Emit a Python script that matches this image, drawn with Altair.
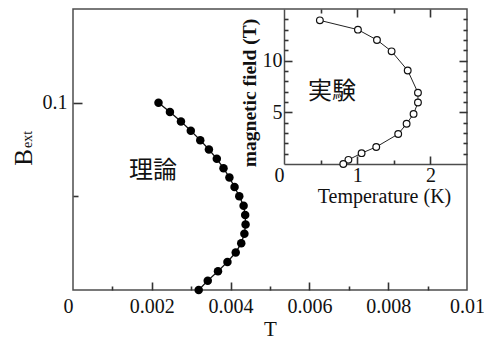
import altair as alt
import pandas as pd

# ---------------- data ----------------
main_B = [0.000, 0.005, 0.010, 0.015, 0.020, 0.025, 0.030, 0.035, 0.040, 0.045,
          0.050, 0.055, 0.060, 0.065, 0.070, 0.075, 0.080, 0.085, 0.090, 0.095, 0.100]
main_T = [0.00319, 0.00342, 0.00368, 0.00392, 0.00413, 0.00427, 0.00435, 0.00438,
          0.00437, 0.00433, 0.00422, 0.00410, 0.00397, 0.00382, 0.00365, 0.00345,
          0.00323, 0.00299, 0.00274, 0.00246, 0.00217]

inset_T = [0.49, 1.01, 1.27, 1.47, 1.69, 1.83, 1.83, 1.77, 1.675, 1.56, 1.26, 1.06, 0.88, 0.81]
inset_B = [13.9, 13.0, 12.0, 10.9, 9.05, 6.9, 5.95, 4.85, 3.9, 2.9, 1.65, 1.05, 0.4, 0.0]

main_x_labels = [0, 0.002, 0.004, 0.006, 0.008, 0.01]
main_x_major = [0.002, 0.004, 0.006, 0.008]
main_x_minor = [0.001, 0.003, 0.005, 0.007, 0.009]
main_y_labels = [0.1]
main_y_major = [0.1]
main_y_minor = [0.05]
inset_x_labels = [0, 1, 2]
inset_x_major = [1, 2]
inset_x_minor = [0.5, 1.5]
inset_y_labels = [5, 10]
inset_y_major = [5, 10]
inset_y_minor = [1, 2, 3, 4, 6, 7, 8, 9, 11, 12, 13, 14]

theory_text = ["理論"]
theory_T = [0.00203]
theory_B = [0.0633]
exp_text = ["実験"]
exp_T = [0.655]
exp_B = [7.0]

# ---------------- styling ----------------
FONT = "Liberation Serif"
CJK = "Noto Sans CJK JP"
AX = "#4d4d4d"
TK = "#333333"
TXT = "#111111"
W, H = 394, 281
IN_X = [211, W]
IN_Y = [155, 0]

main_df = pd.DataFrame({"T": main_T, "B": main_B})
inset_df = pd.DataFrame({"T": inset_T, "B": inset_B, "i": list(range(len(inset_T)))})
theory_df = pd.DataFrame({"T": theory_T, "B": theory_B, "label": theory_text})
exp_df = pd.DataFrame({"T": exp_T, "B": exp_B, "label": exp_text})

xs_main = alt.Scale(domain=[0, 0.01], nice=False, zero=False)
ys_main = alt.Scale(domain=[0, 0.15], nice=False, zero=False)
xs_in = alt.Scale(domain=[0, 2.5], range=IN_X, nice=False, zero=False)
ys_in = alt.Scale(domain=[0, 15], range=IN_Y, nice=False, zero=False)

zero_right = {"condition": {"test": "datum.value == 0", "value": "right"}, "value": "center"}


def tick_axis(orient, offset, values, size):
    return alt.Axis(orient=orient, offset=offset, values=values, labels=False,
                    domain=False, ticks=True, tickSize=size, tickWidth=1.6,
                    tickColor=TK, grid=False, title=None)


def axis_layer(df, xs, ys, xaxis, yaxis):
    return alt.Chart(df).mark_point(opacity=0).encode(
        x=alt.X("T:Q", scale=xs, axis=xaxis),
        y=alt.Y("B:Q", scale=ys, axis=yaxis),
    )


# ---------------- main panel ----------------
main_x_axis = alt.Axis(
    orient="bottom", values=main_x_labels, format="~g", ticks=False, domain=False,
    grid=False, labelFont=FONT, labelFontSize=20, labelColor=TXT, labelPadding=6,
    labelAlign=zero_right, labelFlush=False, labelOverlap=False,
    title="T", titleFont=FONT, titleFontSize=21, titleFontWeight="normal",
    titleColor=TXT, titleBaseline="alphabetic", titleY=45)
main_y_axis = alt.Axis(
    orient="left", values=main_y_labels, format="~g", ticks=False, domain=False,
    grid=False, labelFont=FONT, labelFontSize=20, labelColor=TXT, labelPadding=6,
    labelFlush=False, labelOverlap=False, title=None)

main_line = alt.Chart(main_df).mark_line(color=TXT, strokeWidth=1.3).encode(
    x=alt.X("T:Q", scale=xs_main, axis=main_x_axis),
    y=alt.Y("B:Q", scale=ys_main, axis=main_y_axis),
    order=alt.Order("B:Q"),
)
main_pts = alt.Chart(main_df).mark_circle(size=72, color="#000000", opacity=1).encode(
    x=alt.X("T:Q", scale=xs_main, axis=None),
    y=alt.Y("B:Q", scale=ys_main, axis=None),
)
main_major = axis_layer(main_df, xs_main, ys_main,
                        tick_axis("top", -H, main_x_major, 8),
                        tick_axis("right", -W, main_y_major, 9))
main_minor = axis_layer(main_df, xs_main, ys_main,
                        tick_axis("top", -H, main_x_minor, 4),
                        tick_axis("right", -W, main_y_minor, 5))
theory_lbl = alt.Chart(theory_df).mark_text(font=CJK, fontSize=24, color=TXT).encode(
    x=alt.X("T:Q", scale=xs_main, axis=None),
    y=alt.Y("B:Q", scale=ys_main, axis=None),
    text="label:N",
)
one = pd.DataFrame({"a": [0]})
b_title = alt.Chart(one).mark_text(text="B", font=FONT, fontSize=25, color=TXT,
                                   angle=270, align="center", baseline="alphabetic").encode(
    x=alt.value(-41), y=alt.value(148.5))
ext_title = alt.Chart(one).mark_text(text="ext", font=FONT, fontSize=14, color=TXT,
                                     angle=270, align="center", baseline="alphabetic").encode(
    x=alt.value(-41), y=alt.value(130.5))

main_layer = alt.layer(main_line, main_pts, main_major, main_minor, theory_lbl,
                       b_title, ext_title).resolve_axis(x="independent", y="independent")

# ---------------- inset ----------------
in_x_axis = alt.Axis(
    orient="bottom", offset=-(H - IN_Y[0]), values=inset_x_labels, format="d",
    ticks=False, domain=True, domainColor=AX, domainWidth=1.5, grid=False,
    labelFont=FONT, labelFontSize=20, labelColor=TXT, labelPadding=1,
    labelAlign=zero_right, labelFlush=False, labelOverlap=False,
    title="Temperature (K)", titleFont=FONT, titleFontSize=20, titleFontWeight="normal",
    titleColor=TXT, titleBaseline="alphabetic", titleX=311, titleY=38.5)
in_y_axis = alt.Axis(
    orient="left", offset=-IN_X[0], values=inset_y_labels, format="d",
    ticks=False, domain=True, domainColor=AX, domainWidth=1.5, grid=False,
    labelFont=FONT, labelFontSize=20, labelColor=TXT, labelPadding=2,
    labelFlush=False, labelOverlap=False,
    title="magnetic field (T)", titleFont=FONT, titleFontSize=19.5, titleFontWeight="bold",
    titleColor=TXT, titleBaseline="alphabetic", titleAngle=270, titleAlign="center",
    titleX=-29, titleY=83.5)

in_line = alt.Chart(inset_df).mark_line(color="#222222", strokeWidth=1).encode(
    x=alt.X("T:Q", scale=xs_in, axis=in_x_axis),
    y=alt.Y("B:Q", scale=ys_in, axis=in_y_axis),
    order=alt.Order("i:Q"),
)
in_pts = alt.Chart(inset_df).mark_point(shape="circle", size=45, filled=True,
                                        fill="white", stroke="#111111",
                                        strokeWidth=1.2, opacity=1).encode(
    x=alt.X("T:Q", scale=xs_in, axis=None),
    y=alt.Y("B:Q", scale=ys_in, axis=None),
)
in_major_a = axis_layer(inset_df, xs_in, ys_in,
                        tick_axis("top", -IN_Y[0], inset_x_major, 8),
                        tick_axis("right", -(W - IN_X[0]), inset_y_major, 8))
in_minor_a = axis_layer(inset_df, xs_in, ys_in,
                        tick_axis("top", -IN_Y[0], inset_x_minor, 4),
                        tick_axis("right", -(W - IN_X[0]), inset_y_minor, 4))
in_major_b = axis_layer(inset_df, xs_in, ys_in,
                        tick_axis("bottom", -H, inset_x_major, 8),
                        tick_axis("left", -W, inset_y_major, 8))
in_minor_b = axis_layer(inset_df, xs_in, ys_in,
                        tick_axis("bottom", -H, inset_x_minor, 4),
                        tick_axis("left", -W, inset_y_minor, 4))
exp_lbl = alt.Chart(exp_df).mark_text(font=CJK, fontSize=24, color=TXT).encode(
    x=alt.X("T:Q", scale=xs_in, axis=None),
    y=alt.Y("B:Q", scale=ys_in, axis=None),
    text="label:N",
)

inset_layer = alt.layer(in_line, in_pts, in_major_a, in_minor_a, in_major_b,
                        in_minor_b, exp_lbl).resolve_axis(x="independent", y="independent")

chart = alt.layer(main_layer, inset_layer).resolve_scale(
    x="independent", y="independent"
).properties(
    width=W, height=H,
    padding={"left": 65, "top": 1, "right": 17, "bottom": 50},
    autosize=alt.AutoSizeParams(type="none"),
    background="white",
).configure_view(stroke=AX, strokeWidth=1.5)

chart.save("out.html", embed_options={"renderer": "svg", "actions": False})
